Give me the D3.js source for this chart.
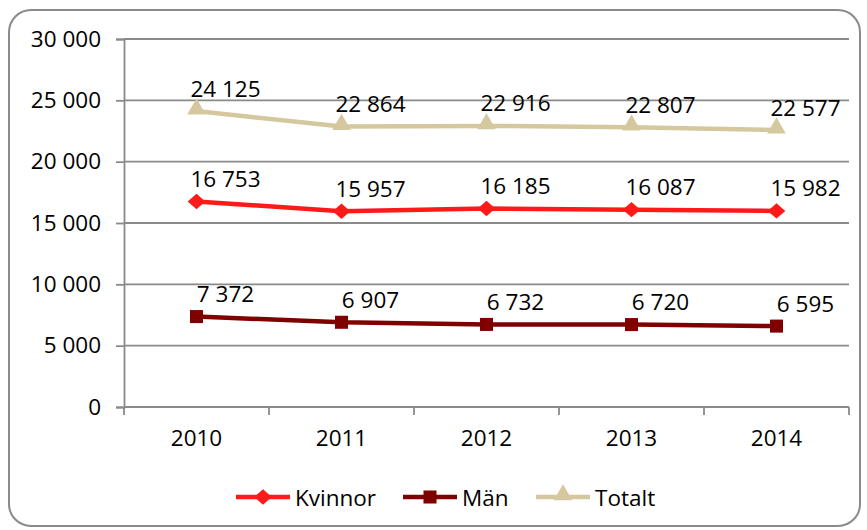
<!DOCTYPE html>
<html>
<head>
<meta charset="utf-8">
<script src="https://cdn.jsdelivr.net/npm/d3@7"></script>
<style>
  body { margin: 0; background: #fff; }
  svg { display: block; font-family: "Open Sans", "Noto Sans", sans-serif; }
</style>
</head>
<body>
<div id="chart"></div>
<script>
// Data
var years = ["2010", "2011", "2012", "2013", "2014"];
var kvinnor = [16753, 15957, 16185, 16087, 15982];
var man = [7372, 6907, 6732, 6720, 6595];
var totalt = [24125, 22864, 22916, 22807, 22577];
var yTicks = [0, 5000, 10000, 15000, 20000, 25000, 30000];

var series = [
  { name: "Kvinnor", values: kvinnor, color: "#ff1a1a", marker: "diamond" },
  { name: "Män", values: man, color: "#800000", marker: "square" },
  { name: "Totalt", values: totalt, color: "#d5c89e", marker: "triangle" }
];

var width = 867, height = 530;
var margin = { top: 39, right: 18, bottom: 123, left: 124 };
var innerW = width - margin.left - margin.right;
var innerH = height - margin.top - margin.bottom;
var fontSize = 22.5;

var fmt = function(v) { return d3.format(",")(v).replace(/,/g, " "); };

var svg = d3.select("#chart").append("svg")
  .attr("width", width)
  .attr("height", height);

// Ram runt diagrammet
svg.append("rect")
  .attr("x", 9).attr("y", 10)
  .attr("width", 851).attr("height", 516)
  .attr("rx", 22).attr("ry", 22)
  .attr("fill", "#fff")
  .attr("stroke", "#8a8a8a")
  .attr("stroke-width", 2);

var g = svg.append("g")
  .attr("transform", "translate(" + margin.left + "," + margin.top + ")");

// Skalor
var x = d3.scaleBand().domain(years).range([0, innerW]);
var y = d3.scaleLinear().domain([0, 30000]).range([innerH, 0]);

// Rutnät + y-axel
var yAxis = g.append("g")
  .call(d3.axisLeft(y).tickValues(yTicks).tickFormat(fmt).tickSize(8).tickPadding(15));
yAxis.attr("font-family", null).attr("font-size", null);
yAxis.select(".domain").attr("stroke", "#8a8a8a").attr("stroke-width", 1.8);
yAxis.selectAll(".tick line").attr("stroke", "#8a8a8a").attr("stroke-width", 1.8);
yAxis.selectAll(".tick text").attr("font-size", fontSize).attr("fill", "#000");

g.append("g").selectAll("line")
  .data(yTicks)
  .enter().append("line")
  .attr("x1", 0).attr("x2", innerW)
  .attr("y1", function(d) { return y(d); })
  .attr("y2", function(d) { return y(d); })
  .attr("stroke", "#8a8a8a")
  .attr("stroke-width", 1.8);

// X-axel
var xAxis = g.append("g")
  .attr("transform", "translate(0," + innerH + ")")
  .call(d3.axisBottom(x).tickSize(0).tickPadding(23));
xAxis.attr("font-family", null).attr("font-size", null);
xAxis.select(".domain").remove();
xAxis.selectAll(".tick text").attr("font-size", fontSize).attr("fill", "#000");

// kategorigränser
var bounds = d3.range(years.length + 1).map(function(i) { return i * x.step(); });
g.append("g").selectAll("line")
  .data(bounds)
  .enter().append("line")
  .attr("x1", function(d) { return d; }).attr("x2", function(d) { return d; })
  .attr("y1", innerH).attr("y2", innerH + 8)
  .attr("stroke", "#8a8a8a")
  .attr("stroke-width", 1.8);

var cx = function(i) { return x(years[i]) + x.bandwidth() / 2; };

var symbols = {
  diamond: d3.symbol().type(d3.symbolDiamond2 || d3.symbolDiamond).size(150),
  square: d3.symbol().type(d3.symbolSquare).size(170),
  triangle: d3.symbol().type(d3.symbolTriangle).size(150)
};

var line = d3.line()
  .x(function(d, i) { return cx(i); })
  .y(function(d) { return y(d); });

// Linjer, markörer, etiketter
series.forEach(function(s) {
  g.append("path")
    .datum(s.values)
    .attr("d", line)
    .attr("fill", "none")
    .attr("stroke", s.color)
    .attr("stroke-width", 4.5)
    .attr("stroke-linejoin", "round");

  g.selectAll(".m-" + s.marker)
    .data(s.values)
    .enter().append("path")
    .attr("class", "m-" + s.marker)
    .attr("transform", function(d, i) {
      var dy = s.marker === "triangle" ? -2 : 0;
      return "translate(" + cx(i) + "," + (y(d) + dy) + ")" + (s.marker === "diamond" ? " scale(1.15,1)" : "");
    })
    .attr("d", symbols[s.marker])
    .attr("fill", s.color);

  g.selectAll(".lbl-" + s.marker)
    .data(s.values)
    .enter().append("text")
    .attr("class", "lbl-" + s.marker)
    .attr("x", function(d, i) { return cx(i) + 29; })
    .attr("y", function(d) { return y(d) - 23; })
    .attr("text-anchor", "middle")
    .attr("dominant-baseline", "central")
    .attr("font-size", fontSize)
    .attr("fill", "#000")
    .text(function(d) { return fmt(d); });
});

// Förklaring
var legendX = [236, 403, 536];
var legend = svg.append("g").attr("transform", "translate(0,497)");
series.forEach(function(s, i) {
  var lg = legend.append("g").attr("transform", "translate(" + legendX[i] + ",0)");
  lg.append("line")
    .attr("x1", 0).attr("x2", 54)
    .attr("y1", 0).attr("y2", 0)
    .attr("stroke", s.color)
    .attr("stroke-width", 4.5);
  lg.append("path")
    .attr("transform", "translate(27," + (s.marker === "triangle" ? -2 : 0) + ")" + (s.marker === "diamond" ? " scale(1.15,1)" : ""))
    .attr("d", symbols[s.marker])
    .attr("fill", s.color);
  lg.append("text")
    .attr("x", 59)
    .attr("y", 0)
    .attr("dominant-baseline", "central")
    .attr("font-size", fontSize)
    .attr("fill", "#000")
    .text(s.name);
});
</script>
</body>
</html>
